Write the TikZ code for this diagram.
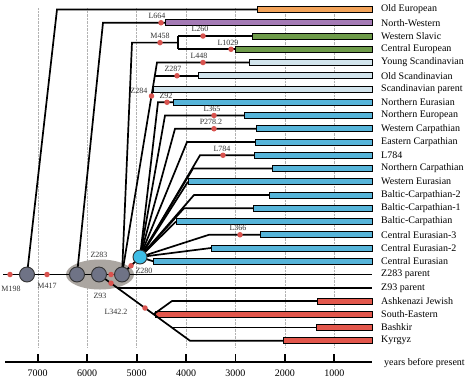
\documentclass[tikz,border=0pt]{standalone}
\usepackage{fontspec}
\setmainfont{Liberation Serif}
\usepackage{tikz}
\usetikzlibrary{positioning,shapes.geometric}
\definecolor{cold}{HTML}{F2A35A}
\definecolor{cnw}{HTML}{A47AB5}
\definecolor{cgreen}{HTML}{6E9B4A}
\definecolor{cscan}{HTML}{D2E4EC}
\definecolor{cblue}{HTML}{56B4D9}
\definecolor{cred}{HTML}{E2574C}
\definecolor{cgray}{HTML}{6F7386}
\definecolor{chub}{HTML}{3DBDE6}
\definecolor{cmut}{HTML}{D9534F}
\definecolor{cell}{HTML}{ABA6A1}

\begin{document}
\begin{tikzpicture}[
  x=1pt, y=-1pt,
  font=\fontsize{10}{12}\selectfont,
  br/.style={line width=1.7pt},
  hapbar/.style={draw, line width=0.9pt, minimum height=6pt, inner sep=0pt, anchor=west},
  hap/.style={anchor=west, inner sep=0pt},
  mut/.style={circle, fill=cmut, inner sep=0pt, minimum size=5.5pt},
  mlab/.style={font=\fontsize{8}{9}\selectfont, inner sep=0.5pt, text=black!80},
  gnode/.style={circle, draw=black!80, line width=0.9pt, fill=cgray, minimum size=15pt, inner sep=0pt},
  hub/.style={gnode, fill=chub, minimum size=14pt},
  gridln/.style={densely dotted, black!30, line width=0.4pt},
]
\path[fill=white, use as bounding box] (0,0) rectangle (474,384);
% ---------- grid and time axis ----------
\draw[gridln] (37.7,8) -- (37.7,347);
\draw[gridln] (87.1,8) -- (87.1,347);
\draw[gridln] (136.6,8) -- (136.6,347);
\draw[gridln] (186,8) -- (186,347);
\draw[gridln] (235.4,8) -- (235.4,347);
\draw[gridln] (284.9,8) -- (284.9,347);
\draw[gridln] (334.3,8) -- (334.3,347);
\draw[line width=1.8pt] (5,362) -- (372,362);
\draw[line width=1.8pt] (37.7,354) -- (37.7,362) (87.1,354) -- (87.1,362)
  (136.6,354) -- (136.6,362) (186,354) -- (186,362) (235.4,354) -- (235.4,362)
  (284.9,354) -- (284.9,362) (334.3,354) -- (334.3,362);
\node (t7000) at (37.7,373) {7000};
\node (t6000) at (87.1,373) {6000};
\node (t5000) at (136.6,373) {5000};
\node (t4000) at (186,373) {4000};
\node (t3000) at (235.4,373) {3000};
\node (t2000) at (284.9,373) {2000};
\node (t1000) at (334.3,373) {1000};
\node[hap] (ybp) at (384,363) {years before present};
% ---------- Z283 group ----------
\node[ellipse, fill=cell, minimum width=68pt, minimum height=30pt, inner sep=0pt] (grp) at (100,274.5) {};
% ---------- bars ----------
\node[hapbar, fill=cold, minimum width=115pt] (b0) at (257,9.5) {};
\node[hapbar, fill=cnw, minimum width=207pt] (b1) at (165,22.75) {};
\node[hapbar, fill=cgreen, minimum width=120pt] (b2) at (252,36) {};
\node[hapbar, fill=cgreen, minimum width=137pt] (b3) at (235,49.25) {};
\node[hapbar, fill=cscan, minimum width=123pt] (b4) at (249,62.5) {};
\node[hapbar, fill=cscan, minimum width=174pt] (b5) at (198,75.75) {};
\node[hapbar, fill=cscan, minimum width=219.4pt] (b6) at (152.6,89) {};
\node[hapbar, fill=cblue, minimum width=199pt] (b7) at (173,102.25) {};
\node[hapbar, fill=cblue, minimum width=128pt] (b8) at (244,115.5) {};
\node[hapbar, fill=cblue, minimum width=116pt] (b9) at (256,128.75) {};
\node[hapbar, fill=cblue, minimum width=117pt] (b10) at (255,142) {};
\node[hapbar, fill=cblue, minimum width=118pt] (b11) at (254,155.25) {};
\node[hapbar, fill=cblue, minimum width=100pt] (b12) at (272,168.5) {};
\node[hapbar, fill=cblue, minimum width=184pt] (b13) at (188,181.75) {};
\node[hapbar, fill=cblue, minimum width=103pt] (b14) at (269,195) {};
\node[hapbar, fill=cblue, minimum width=119pt] (b15) at (253,208.25) {};
\node[hapbar, fill=cblue, minimum width=196pt] (b16) at (176,221.5) {};
\node[hapbar, fill=cblue, minimum width=112pt] (b17) at (260,234.75) {};
\node[hapbar, fill=cblue, minimum width=161pt] (b18) at (211,248) {};
\node[hapbar, fill=cblue, minimum width=219pt] (b19) at (153,261.25) {};
\node[hapbar, fill=cred, minimum width=55pt] (b22) at (317,301) {};
\node[hapbar, fill=cred, minimum width=217pt] (b23) at (155,314.25) {};
\node[hapbar, fill=cred, minimum width=56pt] (b24) at (316,327.5) {};
\node[hapbar, fill=cred, minimum width=89pt] (b25) at (283,340.75) {};
% ---------- haplogroup names ----------
\node[hap] (n0) at (381,9.5) {Old European};
\node[hap] (n1) at (381,22.75) {North-Western};
\node[hap] (n2) at (381,36) {Western Slavic};
\node[hap] (n3) at (381,49.25) {Central European};
\node[hap] (n4) at (381,62.5) {Young Scandinavian};
\node[hap] (n5) at (381,75.75) {Old Scandinavian};
\node[hap] (n6) at (381,89) {Scandinavian parent};
\node[hap] (n7) at (381,102.25) {Northern Eurasian};
\node[hap] (n8) at (381,115.5) {Northern European};
\node[hap] (n9) at (381,128.75) {Western Carpathian};
\node[hap] (n10) at (381,142) {Eastern Carpathian};
\node[hap] (n11) at (381,155.25) {L784};
\node[hap] (n12) at (381,168.5) {Northern Carpathian};
\node[hap] (n13) at (381,181.75) {Western Eurasian};
\node[hap] (n14) at (381,195) {Baltic-Carpathian-2};
\node[hap] (n15) at (381,208.25) {Baltic-Carpathian-1};
\node[hap] (n16) at (381,221.5) {Baltic-Carpathian};
\node[hap] (n17) at (381,234.75) {Central Eurasian-3};
\node[hap] (n18) at (381,248) {Central Eurasian-2};
\node[hap] (n19) at (381,261.25) {Central Eurasian};
\node[hap] (n20) at (381,274.5) {Z283 parent};
\node[hap] (n21) at (381,287.75) {Z93 parent};
\node[hap] (n22) at (381,301) {Ashkenazi Jewish};
\node[hap] (n23) at (381,314.25) {South-Eastern};
\node[hap] (n24) at (381,327.5) {Bashkir};
\node[hap] (n25) at (381,340.75) {Kyrgyz};
% ---------- branch points ----------
\coordinate (root) at (3,274.5);
\coordinate (e20) at (372,274.5);
\coordinate (e21) at (372,287.75);
\coordinate (kA) at (27,274.5);
\coordinate (kB) at (77,274.5);
\coordinate (kC) at (99,274.5);
\coordinate (kD) at (122,274.5);
\coordinate (kH) at (140,257);
\coordinate (c0) at (57,9.5);
\coordinate (c1) at (103,22.75);
\coordinate (c458) at (132,42.6);
\coordinate (s458) at (178,42.6);
\coordinate (c2) at (178,36);
\coordinate (c3) at (178,49.25);
\coordinate (c4) at (157,62.5);
\coordinate (c5) at (154.8,75.75);
\coordinate (c7) at (158,102.25);
\coordinate (c8) at (165,115.5);
\coordinate (c9) at (175,128.75);
\coordinate (c10) at (187,142);
\coordinate (c11) at (200,155.25);
\coordinate (c12) at (193,168.5);
\coordinate (c14) at (194,195);
\coordinate (c15) at (184,208.25);
\coordinate (c17) at (209,234.75);
\coordinate (c21) at (117.2,287.75);
\coordinate (c22) at (172,301);
\coordinate (c23) at (153.6,314.25);
\coordinate (c24) at (171.8,327.5);
\coordinate (c25) at (190,340.75);
% ---------- tree ----------
\draw[br] (root) -- (e20);
\draw[br] (kA) -- (c0) -- (b0);
\draw[br] (kB) -- (c1) -- (b1);
\draw[br] (kD) -- (c458) -- (s458);
\draw[br] (c2) -- (c3);
\draw[br] (c2) -- (b2);
\draw[br] (c3) -- (b3);
\draw[br] (kD) -- (c4) -- (b4);
\draw[br] (c5) -- (b5);
\draw[br] (kD) -- (kH);
\draw[br] (kH) -- (c7) -- (b7);
\draw[br] (kH) -- (c8) -- (b8);
\draw[br] (kH) -- (c9) -- (b9);
\draw[br] (kH) -- (c10) -- (b10);
\draw[br] (kH) -- (c11) -- (b11);
\draw[br] (kH) -- (c12) -- (b12);
\draw[br] (kH) -- (b13.west);
\draw[br] (kH) -- (c14) -- (b14);
\draw[br] (kH) -- (c15) -- (b15);
\draw[br] (kH) -- (b16.west);
\draw[br] (kH) -- (c17) -- (b17);
\draw[br] (kH) -- (b18.west);
\draw[br] (kH) -- (b19.west);
\draw[br] (kC) -- (c25) -- (b25);
\draw[br] (c21) -- (e21);
\draw[br] (c23) -- (c22) -- (b22);
\draw[br] (c23) -- (b23);
\draw[br] (c24) -- (b24);
% ---------- mutations ----------
\node[mut] (mM198) at (10,274.5) {};
\node[mut] (mM417) at (47,274.5) {};
\node[mut] (mZ283) at (111,274.5) {};
\node[mut] (mZ93) at (111,283.2) {};
\node[mut] (mZ280) at (131,265.75) {};
\node[mut] (mL342) at (145,308) {};
\node[mut] (mL664) at (161,22.75) {};
\node[mut] (mM458) at (160,42.6) {};
\node[mut] (mL260) at (203,36) {};
\node[mut] (mL1029) at (231,49.25) {};
\node[mut] (mL448) at (203,62.5) {};
\node[mut] (mZ287) at (177,75.75) {};
\node[mut] (mZ284) at (151.5,96) {};
\node[mut] (mZ92) at (167,102.25) {};
\node[mut] (mL365) at (214,115.5) {};
\node[mut] (mP278) at (214,128.75) {};
\node[mut] (mL784) at (223,155.25) {};
\node[mut] (mL366) at (240,234.75) {};
% ---------- nodes ----------
\node[gnode] (nA) at (kA) {};
\node[gnode] (nB) at (kB) {};
\node[gnode] (nC) at (kC) {};
\node[gnode] (nD) at (kD) {};
\node[hub] (nH) at (kH) {};
% ---------- mutation labels ----------
\node[mlab] (lM198) at (11,289) {M198};
\node[mlab] (lM417) at (47,286) {M417};
\node[mlab] (lZ283) at (99,255) {Z283};
\node[mlab] (lZ93) at (100,296) {Z93};
\node[mlab] (lZ280) at (144,271) {Z280};
\node[mlab] (lL342) at (116,312) {L342.2};
\node[mlab, left=0.5pt of mZ284, yshift=5pt] (lZ284) {Z284};
\node[mlab, above=0.5pt of mL664, xshift=-4pt] (lL664) {L664};
\node[mlab, above=0.5pt of mM458] (lM458) {M458};
\node[mlab, above=0.5pt of mL260, xshift=-3pt] (lL260) {L260};
\node[mlab, above=0.5pt of mL1029, xshift=-3pt] (lL1029) {L1029};
\node[mlab, above=0.5pt of mL448, xshift=-4pt] (lL448) {L448};
\node[mlab, above=0.5pt of mZ287, xshift=-4pt] (lZ287) {Z287};
\node[mlab, above=0.5pt of mZ92, xshift=-1pt] (lZ92) {Z92};
\node[mlab, above=0.5pt of mL365, xshift=-2pt] (lL365) {L365};
\node[mlab, above=0.5pt of mP278, xshift=-3pt] (lP278) {P278.2};
\node[mlab, above=0.5pt of mL784, xshift=-1pt] (lL784) {L784};
\node[mlab, above=0.5pt of mL366, xshift=-2pt] (lL366) {L366};
\end{tikzpicture}
\end{document}
